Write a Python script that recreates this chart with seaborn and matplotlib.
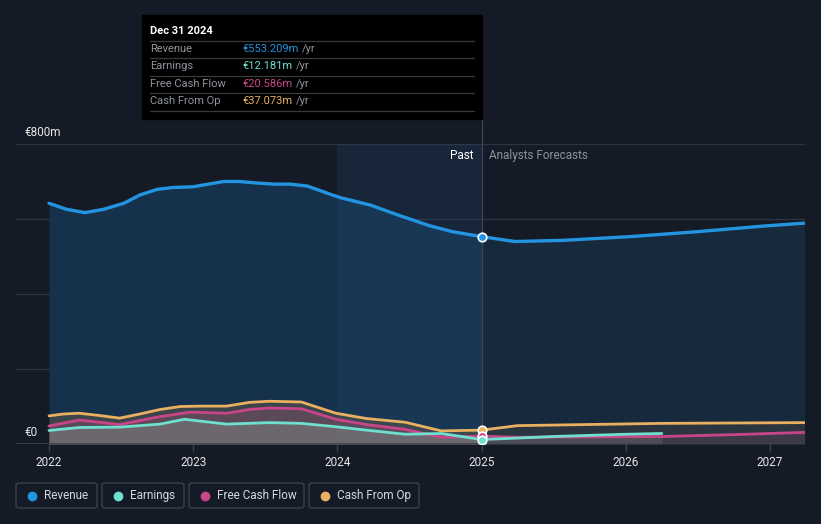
import matplotlib
matplotlib.use("Agg")
import matplotlib.pyplot as plt
from matplotlib.patches import FancyBboxPatch, Rectangle
import seaborn as sns

sns.set_theme(style="dark")
plt.rcParams['font.family'] = ['Roboto', 'DejaVu Sans']

# ---------------- data (EUR millions) ----------------
rev_x = [2022.0, 2022.12, 2022.25, 2022.38, 2022.52, 2022.63, 2022.75, 2022.86,
         2023.0, 2023.09, 2023.21, 2023.32, 2023.44, 2023.56, 2023.67, 2023.79,
         2023.90, 2023.95, 2024.02, 2024.23, 2024.41, 2024.64, 2024.80, 2025.0]
rev_y = [642, 626, 617, 626, 642, 664, 679, 684,
         686, 692, 700, 700, 696, 693, 693, 688,
         673, 666, 657, 637, 612, 582, 566, 553]
rev_fx = [2025.0, 2025.23, 2025.56, 2026.03, 2026.49, 2026.95, 2027.24]
rev_fy = [553, 540, 543, 553, 566, 581, 589]

cfo_x = [2022.0, 2022.10, 2022.21, 2022.35, 2022.49, 2022.63, 2022.77, 2022.91,
         2023.05, 2023.23, 2023.39, 2023.53, 2023.75, 2023.99, 2024.2, 2024.47,
         2024.72, 2025.0]
cfo_y = [75, 80, 82, 76, 69, 80, 92, 100,
         101, 101, 111, 114, 112, 82, 68, 58,
         35, 37]
cfo_fx = [2025.0, 2025.25, 2025.75, 2026.25, 2026.75, 2027.24]
cfo_fy = [37, 49, 52, 55, 56, 57]

fcf_x = [2022.0, 2022.21, 2022.49, 2022.77, 2022.98, 2023.23, 2023.39, 2023.53,
         2023.75, 2023.99, 2024.2, 2024.47, 2024.72, 2025.0]
fcf_y = [48, 64, 52, 73, 85, 82, 92, 96,
         94, 66, 52, 39, 18, 21]
fcf_fx = [2025.0, 2025.25, 2025.75, 2026.25, 2026.75, 2027.24]
fcf_fy = [21, 18, 19, 20, 25, 31]

ern_x = [2022.0, 2022.21, 2022.49, 2022.77, 2022.94, 2023.23, 2023.53, 2023.75,
         2023.99, 2024.2, 2024.47, 2024.72, 2025.0]
ern_y = [36, 44, 45, 53, 66, 53, 57, 55,
         46, 37, 26, 28, 12]
ern_fx = [2025.0, 2025.2, 2025.5, 2026.0, 2026.25]
ern_fy = [12, 15, 20, 26, 28]

years = [2022, 2023, 2024, 2025, 2026, 2027]
year_labels = ["2022", "2023", "2024", "2025", "2026", "2027"]

tip_title = "Dec 31 2024"
tip_names = ["Revenue", "Earnings", "Free Cash Flow", "Cash From Op"]
tip_vals = ["€553.209m", "€12.181m", "€20.586m", "€37.073m"]

# ---------------- style ----------------
BG = "#151b26"
C_REV = "#2394df"
C_ERN = "#6fe0cf"
C_FCF = "#c9458a"
C_CFO = "#e8b060"
GRID = "#2d3440"

W, H = 821, 524
fig = plt.figure(figsize=(W / 100, H / 100), dpi=100, facecolor=BG)

def px(x):
    return x / W

def py(y):
    return 1 - y / H

ax = fig.add_axes([px(16), py(444), px(805) - px(16), py(15) - py(444)])
ax.set_facecolor(BG)
ax.patch.set_alpha(0)
x0 = 2022 + (16 - 49) / 144.2
x1 = 2022 + (805 - 49) / 144.2
ymax = 429 / 0.375
ax.set_xlim(x0, x1)
ax.set_ylim(0, ymax)
for s in ax.spines.values():
    s.set_visible(False)

# grid lines
for g in [200, 400, 600, 800]:
    ax.axhline(g, color=GRID, lw=0.9, zorder=1)
ax.axhline(0, color="#3c4450", lw=1.2, zorder=8)

# revenue area fills
ax.fill_between(rev_x, rev_y, 0, color="#15314c", lw=0, zorder=2)
ax.fill_between(rev_fx, rev_fy, 0, color="#172a3d", lw=0, zorder=2)
ax.add_patch(Rectangle((2024, 0), 1, 800, color="#1d4a72", alpha=0.25, lw=0, zorder=3))

# lower series fills
for xs, ys, fxs, fys, col, a in [
    (cfo_x, cfo_y, cfo_fx, cfo_fy, "#635948", 0.5),
    (fcf_x, fcf_y, fcf_fx, fcf_fy, "#8c506e", 0.4),
    (ern_x, ern_y, ern_fx, ern_fy, "#7c8684", 0.5),
]:
    ax.fill_between(xs, ys, 0, color=col, alpha=a, lw=0, zorder=4)
    ax.fill_between(fxs, fys, 0, color=col, alpha=a * 0.5, lw=0, zorder=4)

# lines via seaborn
def line(xs, ys, col, lw, z):
    sns.lineplot(x=xs, y=ys, ax=ax, color=col, lw=lw, zorder=z,
                 solid_capstyle="round", solid_joinstyle="round", legend=False)

line(cfo_x, cfo_y, C_CFO, 2.0, 5)
line(cfo_fx, cfo_fy, C_CFO, 2.0, 5)
line(fcf_x, fcf_y, C_FCF, 2.0, 6)
line(fcf_fx, fcf_fy, C_FCF, 2.0, 6)
line(ern_x, ern_y, C_ERN, 2.0, 7)
line(ern_fx, ern_fy, C_ERN, 2.0, 7)
line(rev_x, rev_y, C_REV, 2.4, 7)
line(rev_fx, rev_fy, C_REV, 2.4, 7)

# vertical divider at 2025
ax.plot([2025, 2025], [0, ymax], color="#3a4654", lw=0.9, zorder=3, clip_on=False)

# markers at 2025
for v, c in [(rev_y[-1], C_REV), (cfo_y[-1], C_CFO), (fcf_y[-1], C_FCF), (ern_y[-1], C_ERN)]:
    ax.scatter([2025], [v], s=38, color=c, edgecolor="white", linewidth=1.2, zorder=10)

# ticks
ax.set_xticks(years)
ax.set_xticklabels(year_labels)
ax.set_yticks([])
ax.tick_params(axis="x", colors="#3c4450", length=5, width=1, labelcolor="#e6e6e6",
               labelsize=8.5, pad=4, bottom=True)

# y labels
fig.text(px(24), py(132), "€800m", color="#e6e6e6", fontsize=8.5, va="center", ha="left")
fig.text(px(24), py(432), "€0", color="#e6e6e6", fontsize=8.5, va="center", ha="left")

# Past / Forecast labels
fig.text(px(473), py(156), "Past", color="#ffffff", fontsize=8.5, va="center", ha="right")
fig.text(px(489), py(156), "Analysts Forecasts", color="#8d939b", fontsize=8.5, va="center", ha="left")

# tooltip
fig.patches.append(Rectangle((px(142), py(119)), px(482) - px(142), py(15) - py(119),
                             transform=fig.transFigure, color="#000000", zorder=20))
fig.text(px(150), py(31), tip_title, color="#ffffff", fontsize=8, fontweight="bold",
         va="center", ha="left", zorder=21)
row_y = [49, 66, 84, 101]
sep_y = [41, 58, 76, 93, 111]
for sy in sep_y:
    fig.add_artist(plt.Line2D([px(150), px(474)], [py(sy), py(sy)], color="#3a3a3a",
                              lw=0.9, transform=fig.transFigure, zorder=21))
tip_cols = [C_REV, C_ERN, C_FCF, C_CFO]
for ry, nm, vl, c in zip(row_y, tip_names, tip_vals, tip_cols):
    fig.text(px(150), py(ry), nm, color="#8f959c", fontsize=8, va="center", ha="left", zorder=22)
    t = fig.text(px(242), py(ry), vl, color=c, fontsize=8, va="center", ha="left", zorder=22)
    fig.canvas.draw()
    bb = t.get_window_extent()
    fig.text(bb.x1 / W + px(4), py(ry), "/yr", color="#8f959c", fontsize=8,
             va="center", ha="left", zorder=22)

# legend boxes
leg = [(16, 97, "Revenue", C_REV), (102, 184, "Earnings", C_ERN),
       (189, 304, "Free Cash Flow", C_FCF), (309, 419, "Cash From Op", C_CFO)]
for xa, xb, nm, c in leg:
    fig.patches.append(FancyBboxPatch((px(xa), py(508)), px(xb) - px(xa), py(483) - py(508),
                                      boxstyle="round,pad=0,rounding_size=0.004",
                                      transform=fig.transFigure, facecolor="none",
                                      edgecolor="#3a414c", lw=1.0, zorder=20))
    fig.add_artist(plt.Line2D([px(xa + 16)], [py(495.5)], marker="o", markersize=6,
                              color=c, lw=0, transform=fig.transFigure, zorder=21))
    fig.text(px(xa + 28), py(495.5), nm, color="#d5d8dc", fontsize=8.5, va="center",
             ha="left", zorder=21)

fig.savefig("out.png", dpi=100, facecolor=BG)
